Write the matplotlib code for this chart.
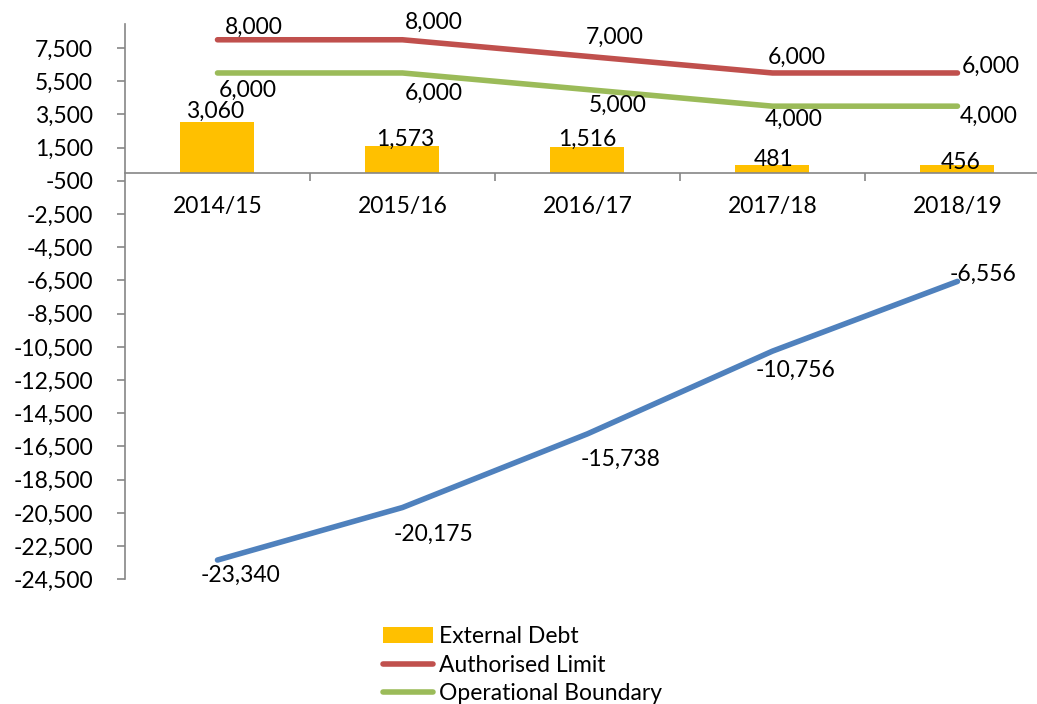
import numpy as np
import matplotlib
matplotlib.use("Agg")
import matplotlib.pyplot as plt
from matplotlib.ticker import FuncFormatter, FixedLocator

plt.rcParams['font.family'] = ['Lato', 'DejaVu Sans']

# data
years = ["2014/15", "2015/16", "2016/17", "2017/18", "2018/19"]
external_debt = [3060, 1573, 1516, 481, 456]
authorised_limit = [8000, 8000, 7000, 6000, 6000]
operational_boundary = [6000, 6000, 5000, 4000, 4000]
net_position = [-23340, -20175, -15738, -10756, -6556]
yticks = list(range(-24500, 7501, 2000))

# label offsets in pixels (dx, dy) - picked by eye
off_bar = [(-2, 10), (3, 7), (0, 8), (1, 5), (3, 3)]
off_red = [(36, 12), (31, 17), (27, 19), (24, 16), (33, 7)]
off_green = [(30, -17), (31, -20), (30, -16), (21, -13), (31, -10)]
off_blue = [(23, -15), (31, -27), (33, -26), (23, -19), (26, 7)]

fs = 16.5
fig = plt.figure(figsize=(10.37, 7.04), dpi=100)
ax = fig.add_axes([125/1037, 1-579.3/704, 1-125/1037, (579.3-24)/704])

x = np.arange(len(years))
b = ax.bar(x, external_debt, width=0.4, color="#FFC000", label="External Debt", zorder=2)
l1, = ax.plot(x, authorised_limit, color="#C0504D", lw=4, solid_capstyle="round", label="Authorised Limit", zorder=3)
l2, = ax.plot(x, operational_boundary, color="#9BBB59", lw=4, solid_capstyle="round", label="Operational Boundary", zorder=3)
ax.plot(x, net_position, color="#4F81BD", lw=4, solid_capstyle="round", zorder=3)

def lbl(vals, offs):
    for xi, v, (dx, dy) in zip(x, vals, offs):
        ax.annotate(f"{v:,}", (xi, v), xytext=(dx, dy), textcoords="offset pixels",
                    ha="center", va="center", fontsize=fs, zorder=5)

lbl(external_debt, off_bar)
lbl(authorised_limit, off_red)
lbl(operational_boundary, off_green)
lbl(net_position, off_blue)

ax.set_xlim(-0.5, 4.43)
ax.set_ylim(-24500, 8950)
ax.yaxis.set_major_locator(FixedLocator(yticks))
ax.yaxis.set_major_formatter(FuncFormatter(lambda v, p: f"{int(v):,}"))
ax.set_xticks(x)
ax.set_xticklabels(years)
ax.xaxis.set_minor_locator(FixedLocator([0.5, 1.5, 2.5, 3.5]))

for s in ["top", "right"]:
    ax.spines[s].set_visible(False)
ax.spines["bottom"].set_position(("data", 0))
for s in ["left", "bottom"]:
    ax.spines[s].set_color("#868686")
    ax.spines[s].set_linewidth(1.2)

ax.tick_params(axis="y", direction="out", length=6, width=1.2, color="#868686", labelsize=fs, pad=17)
ax.tick_params(axis="x", which="major", length=0, labelsize=fs, pad=17)
ax.tick_params(axis="x", which="minor", direction="out", length=6, width=1.2, color="#868686")

ax.legend([b, l1, l2], ["External Debt", "Authorised Limit", "Operational Boundary"],
          loc="upper left", bbox_to_anchor=(383/1037, 1-626/704), bbox_transform=fig.transFigure,
          frameon=False, fontsize=fs, handlelength=2.2, handletextpad=0.25, labelspacing=0.33,
          borderpad=0, borderaxespad=0)

fig.savefig("out.png", dpi=100)
